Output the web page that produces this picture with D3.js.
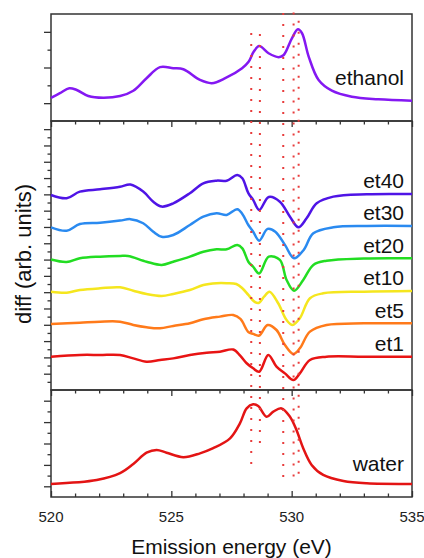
<!DOCTYPE html>
<html>
<head>
<meta charset="utf-8">
<script src="https://cdn.jsdelivr.net/npm/d3@7"></script>
<style>
body { margin: 0; background: #fff; }
svg { display: block; font-family: "Liberation Sans", Arial, sans-serif; }
</style>
</head>
<body>
<div id="chart"></div>
<script>
// energies in eV, intensities in arb. units
const xTicks = [520, 525, 530, 535];
const xMinor = [521, 522, 523, 524, 526, 527, 528, 529, 531, 532, 533, 534];

const ethanol = [[520,0.65],[520.37,0.78],[520.76,0.92],[521.07,0.87],[521.55,0.70],[522.17,0.65],[522.87,0.70],
  [523.42,0.85],[523.97,1.20],[524.53,1.51],[525.08,1.48],[525.5,1.45],[526.19,1.15],[526.68,1.06],[527.24,1.20],
  [527.94,1.48],[528.21,1.66],[528.42,1.94],[528.65,2.10],[529.04,1.90],[529.46,1.79],[529.67,1.85],[530.01,2.32],
  [530.26,2.57],[530.43,2.46],[530.71,1.80],[531.12,1.15],[531.67,0.85],[532.5,0.68],[533.6,0.61],[535,0.57]];

const water = [[520,0.61],[521.9,0.79],[522.87,1.11],[523.42,1.54],[523.97,2.07],[524.39,2.20],[524.8,2.07],
  [525.5,1.86],[526.19,2.04],[526.74,2.28],[527.44,2.74],[527.85,3.44],[528.13,4.14],[528.4,4.33],[528.61,4.25],
  [528.96,3.75],[529.24,3.99],[529.58,4.14],[529.93,3.75],[530.2,3.13],[530.48,2.28],[530.83,1.50],[531.31,1.03],
  [532.15,0.75],[533.12,0.64],[535,0.61]];

// difference spectra, relative to their own offset
const et40 = [[520,-0.04],[520.65,-0.24],[521.2,0.17],[522.04,0.31],[522.87,0.47],[523.3,0.6],[523.83,0.17],
  [524.25,-0.45],[524.6,-0.75],[525.08,-0.55],[525.77,0.07],[526.33,0.68],[526.88,0.84],[527.3,0.84],[527.74,1.19],
  [527.95,0.99],[528.2,0.07],[528.4,-0.34],[528.65,-0.96],[529.05,-0.16],[529.51,-0.45],[529.93,-1.37],[530.28,-2.02],
  [530.62,-1.47],[531.04,-0.55],[531.73,-0.14],[533.12,0.01],[535,0.02]];
const et30 = [[520,-0.02],[520.65,-0.23],[521.2,0.18],[522.04,0.26],[522.87,0.39],[523.3,0.48],[523.83,0.23],
  [524.25,-0.29],[524.6,-0.6],[525.08,-0.49],[525.77,0.12],[526.33,0.63],[526.88,0.84],[527.3,0.74],[527.74,1.09],
  [527.95,0.8],[528.2,0.12],[528.4,-0.29],[528.65,-0.84],[529.0,-0.12],[529.32,-0.29],[529.72,-1.1],[530.1,-1.92],
  [530.5,-1.41],[530.9,-0.39],[531.73,-0.02],[533.12,0.06],[535,0.06]];
const et20 = [[520,0],[520.65,-0.15],[521.2,0.08],[522.04,0.18],[522.87,0.22],[523.2,0.22],[523.97,-0.13],
  [524.6,-0.33],[525.08,-0.13],[525.77,0.18],[526.33,0.48],[526.88,0.63],[527.3,0.63],[527.74,0.9],[527.95,0.69],
  [528.2,-0.13],[528.4,-0.44],[528.65,-0.85],[529.05,0.18],[529.51,-0.02],[529.79,-1.25],[530.1,-1.91],[530.48,-1.25],
  [530.9,-0.33],[531.45,-0.07],[533,0.07],[535,0.08]];
const et10 = [[520,0.03],[520.65,-0.03],[521.2,0.13],[522.04,0.24],[522.87,0.3],[523.42,0.09],[523.97,-0.11],
  [524.6,-0.23],[525.08,-0.11],[525.77,0.13],[526.33,0.44],[526.88,0.55],[527.3,0.55],[527.7,0.5],[527.95,0.24],
  [528.2,-0.17],[528.45,-0.58],[528.63,-0.66],[528.85,-0.28],[529.08,0.03],[529.44,-0.68],[529.79,-1.71],[530.04,-2.01],
  [530.34,-1.6],[530.76,-0.37],[531.31,-0.07],[533,0.03],[535,0.07]];
const et5 = [[520,0.05],[521.2,0.13],[522.04,0.19],[522.87,0.19],[523.42,-0.01],[523.97,-0.15],[524.53,-0.21],
  [525.08,-0.07],[525.77,0.09],[526.33,0.34],[527.02,0.5],[527.57,0.6],[527.87,0.36],[528.2,-0.44],[528.4,-0.56],
  [528.65,-0.66],[529.0,-0.01],[529.37,-0.32],[529.72,-1.24],[530.07,-1.79],[530.34,-1.44],[530.76,-0.42],
  [531.45,-0.01],[533,0.09],[535,0.09]];
const et1 = [[520,0.04],[521.2,0.15],[522.04,0.15],[522.87,0.15],[523.42,-0.06],[523.97,-0.26],[524.53,-0.16],
  [525.08,-0.06],[525.77,0.15],[526.47,0.29],[527.02,0.35],[527.57,0.48],[527.87,0.09],[528.13,-0.36],[528.4,-0.67],
  [528.65,-0.88],[529.03,0.15],[529.37,-0.57],[529.72,-0.98],[530.07,-1.39],[530.34,-0.98],[530.76,-0.16],
  [531.45,0.04],[533,0.04],[535,0.04]];

const diffNames = ['et40', 'et30', 'et20', 'et10', 'et5', 'et1'];
const diffSeries = [et40, et30, et20, et10, et5, et1];
const diffOffsets = [12, 10, 8, 6, 4, 2];
const diffColors = ['#4f14e6', '#2a8af0', '#22dd22', '#f5e61e', '#ff7a1a', '#e81414'];

// dotted guide lines: energy, start (top panel units), end (bottom panel units)
const guideE = [528.32, 528.68, 529.65, 530.08, 530.29];
const guideTop = [2.47, 2.44, 3.03, 3.04, 2.81];
const guideBottom = [1.17, 2.15, 0.56, 0.7, 0.79];

const W = 424, H = 558;
const left = 51, right = 412;
const axisColor = '#333';

const svg = d3.select('#chart').append('svg').attr('width', W).attr('height', H);

const x = d3.scaleLinear().domain([520, 535]).range([left, right]);
const yTop = d3.scaleLinear().domain([0, 3]).range([121, 14]);
const yMid = d3.scaleLinear().domain([0, 16.5]).range([390, 121]);
const yBot = d3.scaleLinear().domain([0, 5]).range([497, 390]);

const line = (ys) => d3.line().x(d => x(d[0])).y(d => ys(d[1])).curve(d3.curveCatmullRom.alpha(0.5));

// y ticks on the left, pointing outward
function yTicks(ys, major, minor) {
  svg.append('g').attr('transform', `translate(${left},0)`)
    .call(d3.axisLeft(ys).tickValues(major).tickSize(7).tickFormat(''))
    .call(g => g.select('.domain').remove());
  svg.append('g').attr('transform', `translate(${left},0)`)
    .call(d3.axisLeft(ys).tickValues(minor).tickSize(3.5).tickFormat(''))
    .call(g => g.select('.domain').remove());
}
yTicks(yTop, [0.5, 1.5, 2.5], [1, 2]);
yTicks(yMid, d3.range(1, 17, 1), d3.range(0.5, 16.5, 1));
yTicks(yBot, [0.5, 1.5, 2.5, 3.5, 4.5], [1, 2, 3, 4]);

// x ticks pointing into the panels below each divider, and up from the bottom
function xTickRow(yPos, dir) {
  const ax = dir > 0 ? d3.axisBottom : d3.axisTop;
  svg.append('g').attr('transform', `translate(0,${yPos})`)
    .call(ax(x).tickValues(xTicks).tickSize(6).tickFormat(''))
    .call(g => g.select('.domain').remove());
  svg.append('g').attr('transform', `translate(0,${yPos})`)
    .call(ax(x).tickValues(xMinor).tickSize(3.5).tickFormat(''))
    .call(g => g.select('.domain').remove());
}
xTickRow(121, 1);
xTickRow(390, 1);
xTickRow(497, -1);

svg.selectAll('.tick line').attr('stroke', axisColor).attr('stroke-width', 1.3);

// frames
[[14, 121], [121, 390], [390, 497]].forEach(([t, b]) => {
  svg.append('rect').attr('x', left).attr('y', t).attr('width', right - left).attr('height', b - t)
    .attr('fill', 'none').attr('stroke', axisColor).attr('stroke-width', 1.5);
});

// curves
svg.append('path').datum(ethanol).attr('d', line(yTop))
  .attr('fill', 'none').attr('stroke', '#8418f2').attr('stroke-width', 2.5).attr('stroke-linejoin', 'round');

svg.append('path').datum(water).attr('d', line(yBot))
  .attr('fill', 'none').attr('stroke', '#e31414').attr('stroke-width', 2.5).attr('stroke-linejoin', 'round');

diffSeries.forEach((s, i) => {
  const off = diffOffsets[i];
  svg.append('path').datum(s.map(d => [d[0], d[1] + off])).attr('d', line(yMid))
    .attr('fill', 'none').attr('stroke', diffColors[i]).attr('stroke-width', 2.5).attr('stroke-linejoin', 'round');
  svg.append('text').attr('x', 404).attr('y', yMid(off + 0.42))
    .attr('text-anchor', 'end').style('font-size', '21px').attr('fill', '#111').text(diffNames[i]);
});

// dotted guides
guideE.forEach((e, i) => {
  svg.append('line')
    .attr('x1', x(e)).attr('x2', x(e))
    .attr('y1', yTop(guideTop[i])).attr('y2', yBot(guideBottom[i]))
    .attr('stroke', '#e83c3c').attr('stroke-width', 2).attr('stroke-dasharray', '2,9');
});

svg.append('text').attr('x', 404).attr('y', yTop(1.01)).attr('text-anchor', 'end')
  .style('font-size', '21px').attr('fill', '#111').text('ethanol');
svg.append('text').attr('x', 404).attr('y', yBot(1.23)).attr('text-anchor', 'end')
  .style('font-size', '21px').attr('fill', '#111').text('water');

// tick labels
svg.selectAll('.xlab').data(xTicks).enter().append('text')
  .attr('x', d => x(d)).attr('y', 521.5).attr('text-anchor', 'middle')
  .style('font-size', '15px').attr('fill', '#222').text(d => d);

svg.append('text').attr('x', (left + right) / 2).attr('y', 554).attr('text-anchor', 'middle')
  .style('font-size', '21px').attr('fill', '#111').text('Emission energy (eV)');

svg.append('text').attr('transform', 'translate(31,254) rotate(-90)').attr('text-anchor', 'middle')
  .style('font-size', '22px').attr('fill', '#111').text('diff (arb. units)');
</script>
</body>
</html>
